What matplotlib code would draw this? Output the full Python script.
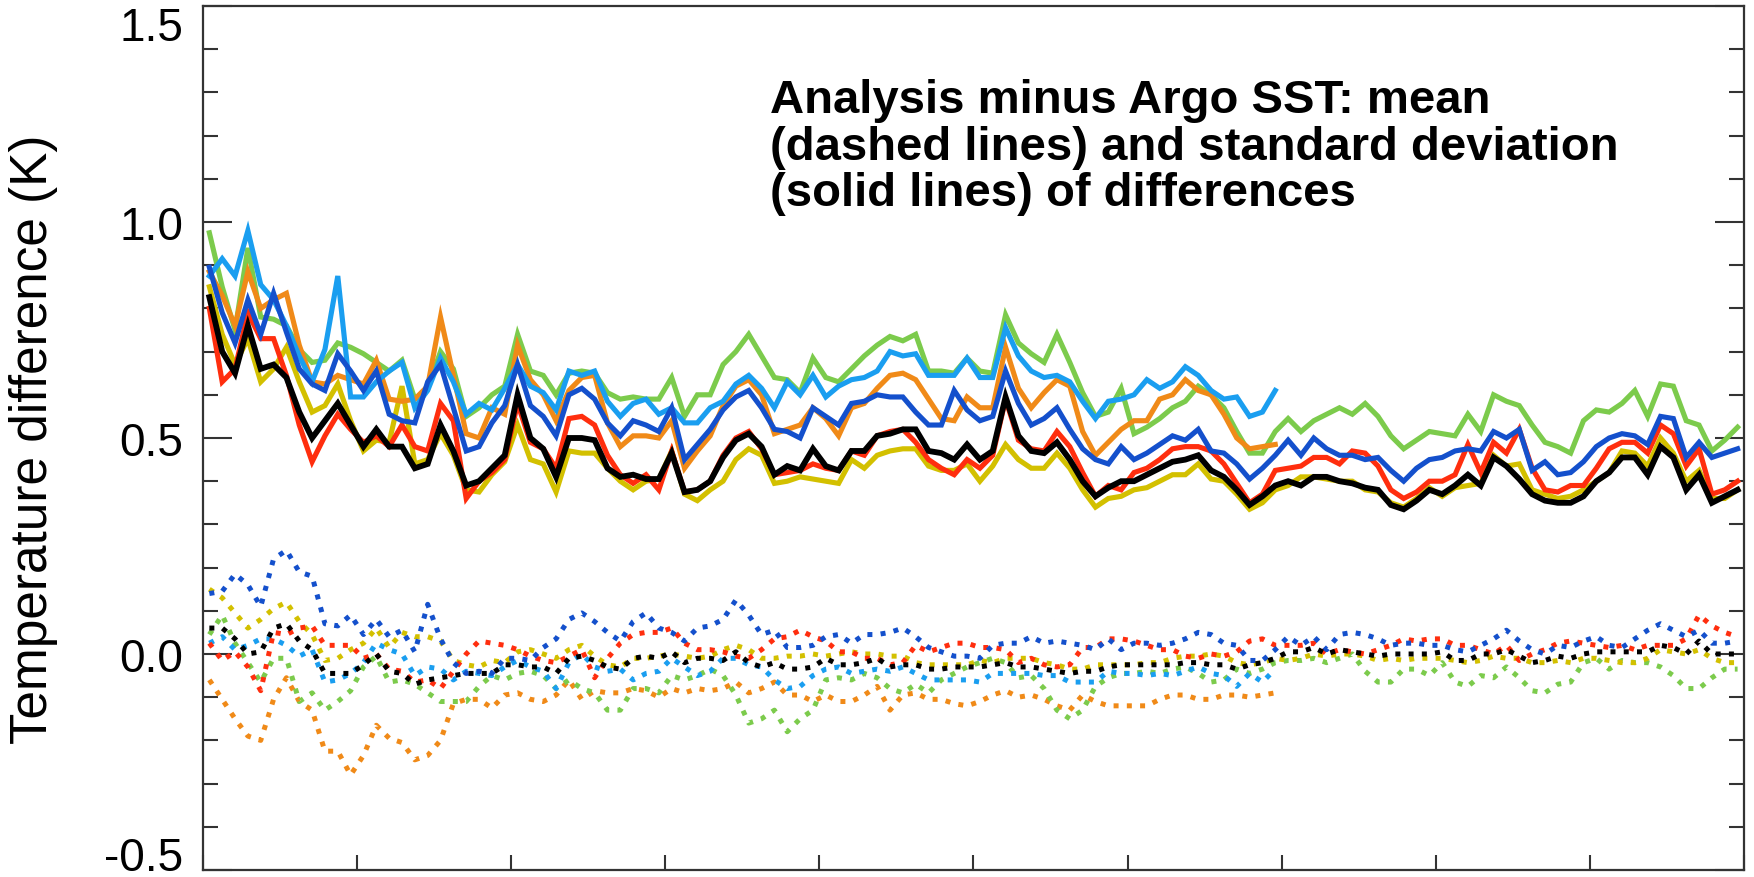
#!/usr/bin/env python3
"""Analysis minus Argo SST: monthly mean and standard deviation of differences."""

import matplotlib

matplotlib.use("Agg")
import matplotlib.pyplot as plt
import numpy as np

# standard deviation (solid lines), one value per month
green_sd = [
    0.975, 0.85, 0.75, 0.94, 0.78, 0.775, 0.76, 0.705, 0.675, 0.68, 0.72, 0.71, 0.695, 0.675, 0.655, 0.68,
    0.59, 0.615, 0.70, 0.66, 0.55, 0.57, 0.60, 0.62, 0.74, 0.655, 0.645, 0.60, 0.65, 0.655, 0.65,
    0.605, 0.59, 0.595, 0.59, 0.59, 0.64, 0.55, 0.60, 0.60, 0.67, 0.70, 0.74, 0.69, 0.64, 0.635, 0.605,
    0.685, 0.64, 0.63, 0.66, 0.69, 0.715, 0.735, 0.725, 0.74, 0.655, 0.655, 0.65, 0.685, 0.655,
    0.65, 0.785, 0.72, 0.695, 0.675, 0.74, 0.675, 0.605, 0.55, 0.56, 0.615, 0.51, 0.525, 0.545, 0.57, 0.585,
    0.62, 0.60, 0.57, 0.515, 0.465, 0.465, 0.515, 0.545, 0.515, 0.54, 0.555, 0.57, 0.555, 0.58, 0.55,
    0.505, 0.475, 0.495, 0.515, 0.51, 0.505, 0.555, 0.515, 0.60, 0.585, 0.575, 0.53, 0.49, 0.48, 0.465,
    0.54, 0.565, 0.56, 0.58, 0.61, 0.55, 0.625, 0.62, 0.54, 0.53, 0.47, 0.495, 0.525,
]
cyan_sd = [
    0.875, 0.915, 0.875, 0.98, 0.855, 0.82, 0.76, 0.69, 0.63, 0.705, 0.875, 0.595, 0.595, 0.63, 0.655, 0.675,
    0.57, 0.61, 0.685, 0.63, 0.555, 0.58, 0.565, 0.615, 0.67, 0.62, 0.605, 0.565, 0.655, 0.645, 0.655,
    0.585, 0.55, 0.58, 0.59, 0.555, 0.57, 0.535, 0.535, 0.57, 0.585, 0.625, 0.645, 0.615, 0.57, 0.63, 0.60,
    0.645, 0.595, 0.62, 0.635, 0.64, 0.655, 0.70, 0.69, 0.695, 0.645, 0.645, 0.645, 0.685, 0.64,
    0.64, 0.755, 0.69, 0.655, 0.64, 0.645, 0.63, 0.585, 0.545, 0.585, 0.59, 0.60, 0.635, 0.615, 0.63, 0.665,
    0.645, 0.61, 0.59, 0.595, 0.55, 0.56, 0.61,
]
orange_sd = [
    0.885, 0.83, 0.76, 0.885, 0.80, 0.82, 0.835, 0.715, 0.63, 0.625, 0.645, 0.635, 0.625, 0.68, 0.59, 0.585,
    0.59, 0.62, 0.78, 0.645, 0.51, 0.50, 0.57, 0.555, 0.715, 0.635, 0.60, 0.54, 0.61, 0.64, 0.645,
    0.535, 0.48, 0.505, 0.505, 0.50, 0.54, 0.43, 0.47, 0.505, 0.575, 0.62, 0.635, 0.60, 0.51, 0.52, 0.53,
    0.57, 0.545, 0.505, 0.57, 0.58, 0.615, 0.645, 0.65, 0.635, 0.59, 0.545, 0.54, 0.595, 0.57,
    0.57, 0.71, 0.615, 0.57, 0.605, 0.635, 0.62, 0.515, 0.46, 0.49, 0.52, 0.54, 0.54, 0.59, 0.60, 0.635,
    0.61, 0.60, 0.555, 0.50, 0.475, 0.48, 0.485,
]
blue_sd = [
    0.895, 0.79, 0.72, 0.82, 0.74, 0.835, 0.745, 0.66, 0.625, 0.61, 0.695, 0.655, 0.61, 0.655, 0.555, 0.54,
    0.535, 0.63, 0.67, 0.57, 0.47, 0.48, 0.535, 0.575, 0.67, 0.575, 0.55, 0.505, 0.60, 0.615, 0.59,
    0.535, 0.505, 0.54, 0.53, 0.515, 0.57, 0.45, 0.485, 0.52, 0.565, 0.595, 0.61, 0.57, 0.52, 0.515, 0.50,
    0.57, 0.55, 0.53, 0.58, 0.585, 0.60, 0.595, 0.595, 0.56, 0.53, 0.53, 0.61, 0.565, 0.54,
    0.55, 0.655, 0.58, 0.53, 0.545, 0.57, 0.52, 0.475, 0.45, 0.44, 0.48, 0.45, 0.465, 0.485, 0.505, 0.495,
    0.52, 0.47, 0.465, 0.44, 0.405, 0.43, 0.46, 0.495, 0.46, 0.50, 0.475, 0.46, 0.46, 0.45, 0.455,
    0.425, 0.40, 0.43, 0.45, 0.455, 0.47, 0.475, 0.47, 0.515, 0.50, 0.52, 0.425, 0.445, 0.415, 0.42,
    0.445, 0.48, 0.50, 0.51, 0.505, 0.485, 0.55, 0.545, 0.455, 0.49, 0.455, 0.465, 0.475,
]
red_sd = [
    0.80, 0.63, 0.66, 0.79, 0.73, 0.73, 0.645, 0.53, 0.445, 0.505, 0.555, 0.52, 0.49, 0.505, 0.48, 0.53,
    0.48, 0.47, 0.58, 0.54, 0.36, 0.40, 0.42, 0.45, 0.58, 0.49, 0.475, 0.43, 0.545, 0.55, 0.53,
    0.46, 0.415, 0.395, 0.415, 0.38, 0.47, 0.375, 0.38, 0.40, 0.46, 0.50, 0.515, 0.475, 0.415, 0.42, 0.425,
    0.44, 0.43, 0.425, 0.47, 0.46, 0.505, 0.515, 0.52, 0.49, 0.45, 0.43, 0.415, 0.45, 0.43,
    0.46, 0.59, 0.495, 0.475, 0.47, 0.515, 0.48, 0.42, 0.365, 0.39, 0.38, 0.42, 0.43, 0.45, 0.475, 0.48,
    0.48, 0.47, 0.44, 0.395, 0.35, 0.37, 0.425, 0.43, 0.435, 0.455, 0.455, 0.44, 0.47, 0.465, 0.435,
    0.38, 0.36, 0.375, 0.40, 0.40, 0.415, 0.485, 0.42, 0.49, 0.465, 0.52, 0.43, 0.38, 0.375, 0.39,
    0.39, 0.43, 0.475, 0.49, 0.49, 0.465, 0.53, 0.51, 0.435, 0.475, 0.37, 0.38, 0.40,
]
yellow_sd = [
    0.85, 0.74, 0.67, 0.73, 0.63, 0.66, 0.71, 0.63, 0.56, 0.575, 0.625, 0.54, 0.47, 0.495, 0.49, 0.62,
    0.44, 0.45, 0.51, 0.46, 0.38, 0.375, 0.415, 0.445, 0.53, 0.45, 0.44, 0.375, 0.47, 0.465, 0.465,
    0.43, 0.40, 0.38, 0.40, 0.405, 0.47, 0.37, 0.355, 0.38, 0.40, 0.45, 0.475, 0.46, 0.395, 0.40, 0.41,
    0.405, 0.40, 0.395, 0.45, 0.43, 0.46, 0.47, 0.475, 0.475, 0.435, 0.425, 0.425, 0.44, 0.40,
    0.435, 0.485, 0.45, 0.43, 0.43, 0.465, 0.43, 0.38, 0.34, 0.36, 0.365, 0.38, 0.385, 0.40, 0.415, 0.415,
    0.44, 0.405, 0.40, 0.37, 0.335, 0.35, 0.38, 0.39, 0.41, 0.41, 0.405, 0.40, 0.40, 0.38, 0.375,
    0.35, 0.34, 0.36, 0.385, 0.365, 0.385, 0.39, 0.395, 0.46, 0.435, 0.44, 0.38, 0.37, 0.36, 0.365,
    0.38, 0.40, 0.42, 0.47, 0.465, 0.435, 0.50, 0.465, 0.40, 0.425, 0.36, 0.36, 0.38,
]
black_sd = [
    0.826, 0.70, 0.65, 0.76, 0.66, 0.67, 0.64, 0.56, 0.50, 0.54, 0.58, 0.53, 0.48, 0.52, 0.48, 0.48,
    0.43, 0.44, 0.53, 0.47, 0.39, 0.40, 0.43, 0.46, 0.60, 0.50, 0.475, 0.41, 0.50, 0.50, 0.495,
    0.43, 0.41, 0.415, 0.405, 0.405, 0.465, 0.375, 0.38, 0.40, 0.455, 0.495, 0.51, 0.48, 0.415, 0.435, 0.425,
    0.475, 0.435, 0.425, 0.47, 0.47, 0.505, 0.51, 0.52, 0.52, 0.47, 0.465, 0.45, 0.485, 0.45,
    0.47, 0.595, 0.505, 0.47, 0.465, 0.49, 0.45, 0.40, 0.365, 0.385, 0.40, 0.40, 0.415, 0.43, 0.445, 0.45,
    0.46, 0.425, 0.41, 0.38, 0.345, 0.365, 0.39, 0.40, 0.39, 0.41, 0.41, 0.40, 0.395, 0.385, 0.38,
    0.345, 0.335, 0.355, 0.38, 0.37, 0.39, 0.415, 0.39, 0.455, 0.435, 0.405, 0.37, 0.355, 0.35, 0.35,
    0.365, 0.40, 0.42, 0.455, 0.455, 0.415, 0.48, 0.455, 0.38, 0.415, 0.35, 0.365, 0.38,
]

# mean (dotted lines)
green_mean = [
    0.045, 0.09, 0.025, -0.02, -0.065, -0.01, -0.01, -0.11, -0.09, -0.13, -0.11, -0.085, -0.03, -0.005,
    -0.065, -0.06, -0.07, -0.09, -0.11, -0.11, -0.11, -0.075, -0.05, -0.06, -0.045, -0.04, -0.05, -0.08,
    -0.06, -0.08, -0.09, -0.13, -0.13, -0.08, -0.08, -0.09, -0.05, -0.06, -0.05, -0.035,
    -0.05, -0.095, -0.16, -0.15, -0.13, -0.18, -0.15, -0.13, -0.06, -0.055, -0.06, -0.045, -0.055, -0.08,
    -0.09, -0.07, -0.09, -0.06, -0.045, -0.03, -0.02, -0.01, -0.02, -0.055, -0.05, -0.08, -0.13, -0.15,
    -0.13, -0.075, -0.055, -0.045, -0.045, -0.04, -0.045, -0.035, -0.03, -0.045, -0.065, -0.06,
    -0.035, -0.045, -0.035, -0.02, -0.015, -0.015, -0.01, -0.02, -0.01, 0.0, -0.04, -0.065, -0.065, -0.035,
    -0.035, -0.05, -0.02, -0.065, -0.075, -0.05, -0.055, -0.03, -0.055, -0.085, -0.09, -0.07, -0.065, -0.02,
    -0.01, -0.035, -0.015, -0.02, -0.02, -0.03, -0.05, -0.08, -0.08, -0.055, -0.035, -0.035,
]
cyan_mean = [
    0.025, 0.04, 0.01, 0.02, 0.035, 0.035, 0.02, -0.005, 0.01, -0.065, -0.06, -0.045, -0.02, 0.025, 0.01,
    0.0, -0.05, -0.03, -0.035, -0.06, -0.04, -0.045, -0.05, -0.03, -0.015, -0.03, -0.04, -0.08, -0.02, 0.0,
    -0.03, -0.04, -0.035, -0.06, -0.045, -0.04, -0.01, -0.03, -0.05, -0.04,
    -0.01, -0.01, -0.025, -0.03, -0.06, -0.08, -0.075, -0.05, -0.035, -0.03, -0.045, -0.04, -0.035, -0.04,
    -0.03, -0.045, -0.06, -0.06, -0.06, -0.06, -0.065, -0.045, -0.045, -0.045, -0.045, -0.05, -0.05,
    -0.065, -0.065, -0.065, -0.04, -0.045, -0.045, -0.05, -0.045, -0.05, -0.04, -0.03, -0.045, -0.05,
    -0.075, -0.045, -0.065, -0.035,
]
orange_mean = [
    -0.06, -0.105, -0.15, -0.19, -0.20, -0.105, -0.055, -0.11, -0.13, -0.225, -0.225, -0.28, -0.235,
    -0.165, -0.195, -0.205, -0.245, -0.235, -0.20, -0.115, -0.105, -0.105, -0.125, -0.095, -0.09, -0.105,
    -0.11, -0.095, -0.06, -0.105, -0.085, -0.09, -0.09, -0.08, -0.085, -0.10, -0.08, -0.09, -0.08, -0.085,
    -0.08, -0.065, -0.09, -0.08, -0.065, -0.095, -0.095, -0.11, -0.095, -0.11, -0.11, -0.095, -0.075,
    -0.13, -0.095, -0.09, -0.105, -0.105, -0.115, -0.12, -0.11, -0.095, -0.085, -0.10, -0.095, -0.105,
    -0.12, -0.13, -0.095, -0.11, -0.12, -0.12, -0.12, -0.12, -0.105, -0.095, -0.095, -0.105, -0.105, -0.095,
    -0.095, -0.10, -0.095, -0.09,
]
blue_mean = [
    0.14, 0.145, 0.185, 0.16, 0.11, 0.22, 0.24, 0.19, 0.18, 0.07, 0.065, 0.09, 0.045, 0.08, 0.04, 0.055,
    0.005, 0.115, 0.035, -0.02, -0.045, -0.04, -0.045, -0.01, -0.01, -0.015, 0.015, 0.035, 0.08, 0.095,
    0.075, 0.05, 0.03, 0.075, 0.095, 0.06, 0.05, 0.03, 0.06, 0.065,
    0.08, 0.125, 0.09, 0.045, 0.055, 0.015, 0.015, 0.02, 0.04, 0.045, 0.025, 0.045, 0.045, 0.05, 0.06,
    0.04, 0.015, 0.005, -0.005, -0.005, -0.01, 0.02, 0.025, 0.025, 0.04, 0.025, 0.03, 0.025, 0.02, 0.01,
    0.035, 0.01, 0.025, 0.025, 0.02, 0.025, 0.035, 0.05, 0.045, 0.025,
    0.02, -0.015, -0.015, 0.01, 0.04, 0.02, 0.04, 0.01, 0.045, 0.05, 0.045, 0.035, 0.02, 0.025, 0.025,
    0.02, 0.02, 0.01, 0.005, 0.02, 0.035, 0.055, 0.03, 0.01, 0.0, 0.02, 0.015, 0.03, 0.04, 0.02, 0.015,
    0.035, 0.055, 0.07, 0.055, 0.04, 0.055, 0.025, 0.025, 0.03,
]
red_mean = [
    0.025, -0.015, 0.005, -0.03, -0.085, 0.05, 0.045, 0.06, 0.065, 0.02, 0.02, 0.02, -0.01, 0.0, -0.035,
    -0.04, -0.065, -0.06, -0.08, -0.04, 0.0, 0.03, 0.025, 0.02, 0.01, -0.005, -0.015, -0.02, -0.005, 0.01,
    -0.055, -0.01, 0.025, 0.045, 0.05, 0.05, 0.06, 0.025, 0.01, 0.01,
    0.005, -0.005, -0.01, 0.01, 0.035, 0.04, 0.055, 0.04, 0.03, 0.005, 0.005, -0.01, -0.01, -0.025, -0.02,
    0.02, 0.005, 0.015, 0.025, 0.025, 0.015, 0.015, 0.01, -0.02, -0.01, -0.025, -0.03, -0.025, 0.015,
    0.015, 0.035, 0.035, 0.03, 0.02, 0.01, 0.01, -0.005, -0.01, 0.0, -0.005,
    0.005, 0.03, 0.035, 0.02, 0.02, 0.02, 0.025, 0.0, 0.01, 0.005, 0.0, 0.01, 0.02, 0.035, 0.03, 0.035,
    0.035, 0.02, 0.02, 0.01, 0.0, 0.02, -0.015, 0.0, 0.01, 0.025, 0.03, 0.025, 0.02, 0.015, 0.02, 0.01,
    0.02, 0.02, 0.02, 0.035, 0.09, 0.065, 0.05, 0.04,
]
yellow_mean = [
    0.15, 0.13, 0.095, 0.06, 0.08, 0.105, 0.12, 0.075, 0.045, -0.015, -0.01, 0.01, 0.025, 0.06, 0.015,
    0.05, 0.04, 0.04, 0.03, -0.015, -0.025, -0.03, -0.015, -0.02, 0.005, 0.01, 0.0, -0.01, 0.01, 0.02,
    -0.005, -0.025, -0.03, -0.01, -0.01, -0.005, 0.0, -0.005, -0.01, -0.005,
    0.01, 0.02, 0.01, -0.01, -0.01, -0.005, -0.005, 0.0, -0.005, 0.0, 0.005, 0.0, 0.0, -0.005, -0.005,
    -0.02, -0.025, -0.025, -0.025, -0.025, -0.015, -0.02, -0.01, -0.01, -0.01, -0.02, -0.025, -0.035,
    -0.035, -0.025, -0.025, -0.025, -0.025, -0.02, -0.02, -0.01, -0.005, -0.005, 0.0, -0.005,
    -0.02, -0.025, -0.02, -0.01, -0.015, -0.01, 0.0, -0.005, 0.0, 0.0, -0.005, -0.015, -0.01, -0.015,
    -0.01, -0.01, -0.01, -0.015, -0.02, -0.015, -0.005, -0.01, -0.01, -0.02, -0.02, -0.015, -0.02, -0.01,
    -0.01, -0.015, -0.02, -0.02, -0.01, 0.01, 0.005, 0.0, 0.01, -0.01, -0.02, -0.02,
]
black_mean = [
    0.06, 0.06, 0.035, 0.0, 0.005, 0.06, 0.07, 0.03, 0.01, -0.045, -0.045, -0.045, -0.025, 0.0, -0.04,
    -0.045, -0.07, -0.06, -0.055, -0.05, -0.045, -0.045, -0.045, -0.025, -0.025, -0.03, -0.03, -0.045,
    -0.01, -0.005, -0.015, -0.03, -0.035, -0.01, -0.005, -0.01, 0.005, -0.02, -0.01, -0.01,
    -0.015, 0.005, -0.02, -0.03, -0.02, -0.035, -0.035, -0.03, -0.01, -0.025, -0.025, -0.02, -0.01, -0.03,
    -0.025, -0.025, -0.035, -0.035, -0.03, -0.03, -0.03, -0.025, -0.02, -0.03, -0.03, -0.035, -0.04,
    -0.045, -0.04, -0.04, -0.03, -0.025, -0.025, -0.025, -0.025, -0.025, -0.02, -0.02, -0.025, -0.025,
    -0.035, -0.025, -0.02, -0.01, 0.005, 0.005, 0.015, 0.0, 0.01, 0.005, 0.0, -0.005, 0.0, 0.0, 0.0, 0.0,
    0.005, -0.015, -0.015, 0.0, 0.0, 0.01, -0.005, -0.02, -0.015, -0.005, -0.01, 0.0, 0.005, 0.005, 0.005,
    0.005, 0.005, 0.02, 0.015, 0.0, 0.03, 0.0, 0.0, 0.0,
]

COLORS = {
    "green": "#7ccb4c",
    "cyan": "#1a9ef0",
    "orange": "#f08a18",
    "blue": "#1450cc",
    "red": "#ff2e0e",
    "yellow": "#d3c000",
    "black": "#000000",
}

SOLID = [
    ("yellow", yellow_sd), ("green", green_sd), ("orange", orange_sd), ("cyan", cyan_sd),
    ("red", red_sd), ("blue", blue_sd), ("black", black_sd),
]
DOTTED = [
    ("orange", orange_mean), ("green", green_mean), ("cyan", cyan_mean), ("yellow", yellow_mean),
    ("red", red_mean), ("blue", blue_mean), ("black", black_mean),
]


def main():
    plt.rcParams["font.family"] = ["Liberation Sans", "DejaVu Sans"]
    plt.rcParams["axes.unicode_minus"] = False

    fig = plt.figure(figsize=(17.54, 8.78), dpi=100)
    ax = fig.add_axes([0.1157, 0.008, 0.8786, 0.984])

    for name, vals in DOTTED:
        x = np.arange(len(vals)) + 0.5
        ax.plot(x, vals, color=COLORS[name], lw=3.6, ls=":")
    for name, vals in SOLID:
        x = np.arange(len(vals)) + 0.5
        ax.plot(x, vals, color=COLORS[name], lw=4.2 if name == "black" else 3.7,
                solid_joinstyle="miter")

    ax.set_xlim(0, 120)
    ax.set_ylim(-0.5, 1.5)
    ax.set_xticks(np.arange(0, 121, 12))
    ax.set_xticklabels([])
    ax.set_yticks([-0.5, 0.0, 0.5, 1.0, 1.5])
    ax.set_yticklabels(["-0.5", "0.0", "0.5", "1.0", "1.5"])
    ax.set_yticks(np.arange(-0.5, 1.51, 0.1), minor=True)
    ax.tick_params(axis="y", which="major", direction="in", length=21, width=1.5,
                   right=True, labelsize=33, pad=14, color="#333333")
    ax.tick_params(axis="y", which="minor", direction="in", length=11, width=1.5,
                   right=True, color="#333333")
    ax.tick_params(axis="x", which="major", direction="in", length=11, width=1.5,
                   color="#333333")
    labels = ax.get_yticklabels()
    labels[0].set_verticalalignment("baseline")
    labels[-1].set_verticalalignment("top")
    for spine in ax.spines.values():
        spine.set_linewidth(1.6)
        spine.set_color("#333333")

    ax.set_ylabel("Temperature difference (K)", fontsize=37)
    ax.yaxis.set_label_coords(-0.094, 0.5)

    fig.text(0.439, 0.91,
             "Analysis minus Argo SST: mean\n(dashed lines) and standard deviation\n"
             "(solid lines) of differences",
             fontsize=34, fontweight="bold", va="top", ha="left", linespacing=1.08)

    fig.savefig("out.png", dpi=100)


if __name__ == "__main__":
    main()
